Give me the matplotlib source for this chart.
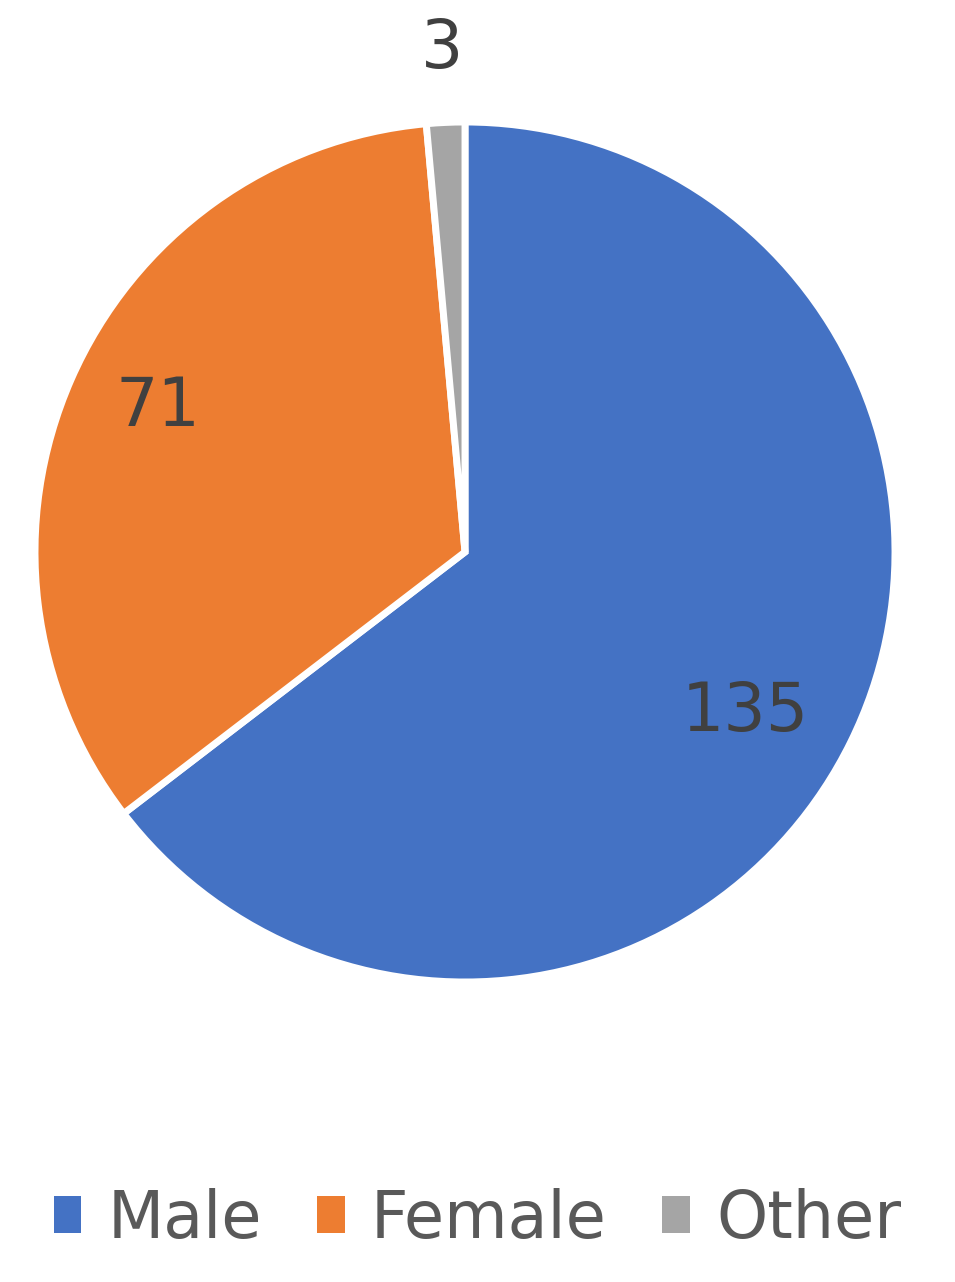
import matplotlib.pyplot as plt
import numpy as np

# datos del gráfico
categorias = ['Male', 'Female', 'Other']
valores = [135, 71, 3]
colores = ['#4472C4', '#ED7D31', '#A5A5A5']

# posición de las etiquetas (distancia radial, giro extra en grados)
dist_etiquetas = [0.75, 0.79, 1.17]
giro_etiquetas = [-3.5, -1.5, 0.0]

fig = plt.figure(figsize=(9.55, 12.82), dpi=100)
ax = fig.add_axes([35/955, 300/1282, 860/955, 860/1282])

wedges, _ = ax.pie(valores, colors=colores, startangle=90, counterclock=False,
                   wedgeprops={'edgecolor': 'white', 'linewidth': 5})

# etiquetas con los valores
for w, v, d, g in zip(wedges, valores, dist_etiquetas, giro_etiquetas):
    ang = np.deg2rad((w.theta1 + w.theta2) / 2 + g)
    ax.text(d * np.cos(ang), d * np.sin(ang), str(v), ha='center', va='center',
            fontsize=48, color='#404040')

ax.set_xlim(-1, 1)
ax.set_ylim(-1, 1)
ax.set_aspect('equal')
ax.axis('off')

leg = fig.legend(wedges, categorias, loc='center', bbox_to_anchor=(0.5, 1 - 1220/1282),
                 ncol=3, frameon=False, fontsize=47, handlelength=0.42, handleheight=0.5,
                 handletextpad=0.4, columnspacing=0.85, labelcolor='#595959')
for h in leg.legend_handles:
    h.set_linewidth(0)

plt.savefig('out.png', dpi=100)
